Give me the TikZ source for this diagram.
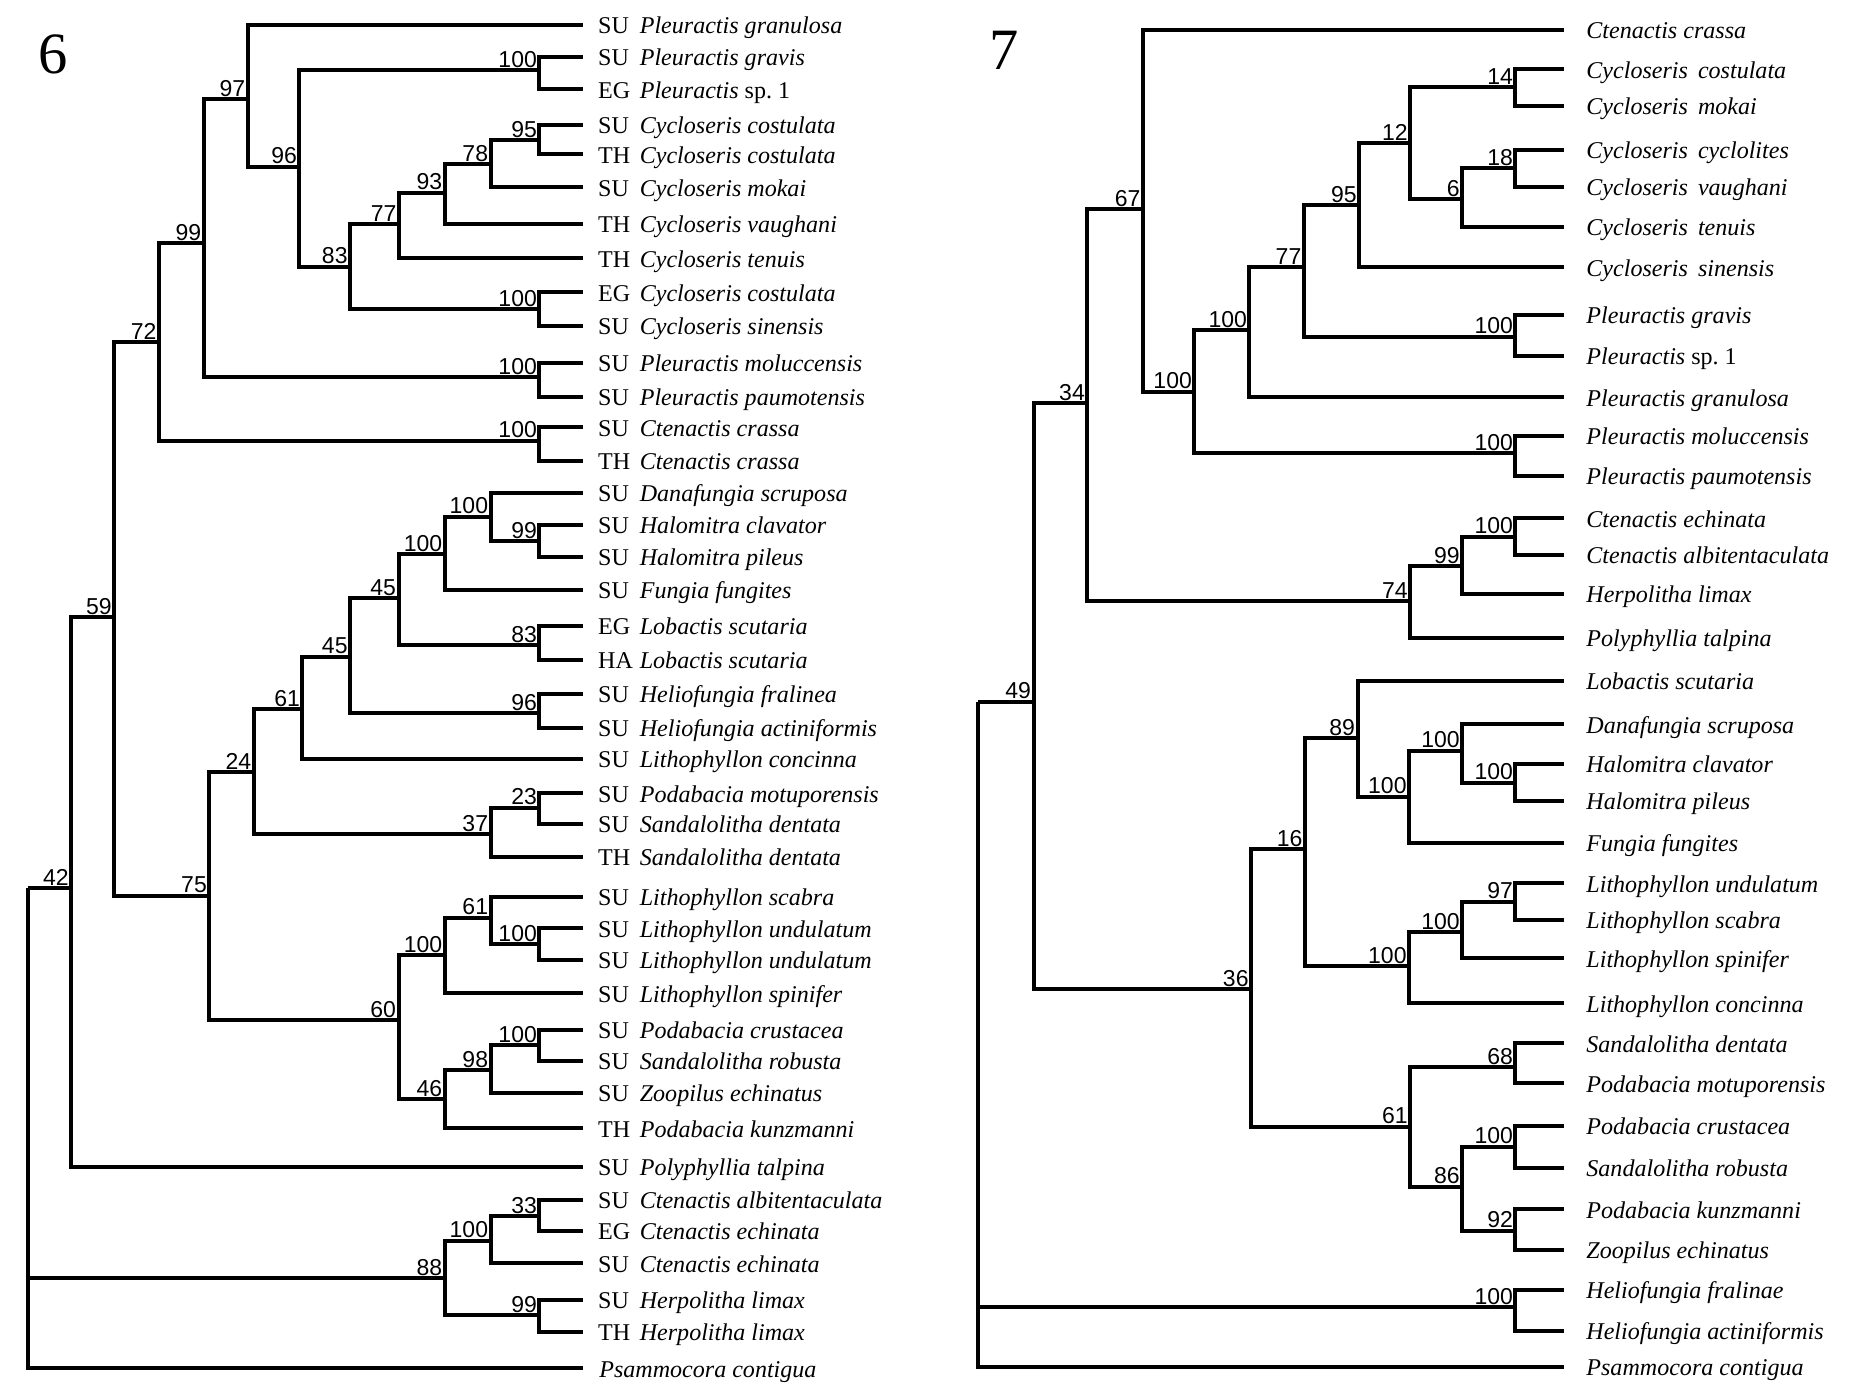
\documentclass[tikz,border=0pt]{standalone}
\usepackage{fontspec}
\setmainfont{Liberation Serif}
\newfontfamily\bsfont{Liberation Sans}
\tikzset{
  branch/.style={line width=1.9pt, line join=miter},
  bs/.style={font=\bsfont\fontsize{11}{12}\selectfont, anchor=south east, inner sep=1pt},
  code/.style={font=\fontsize{11.5}{13}\selectfont, anchor=base west, inner sep=0pt, yshift=-4.2pt},
  taxon/.style={code, font=\fontsize{11.5}{13}\selectfont\itshape},
  panel/.style={font=\fontsize{28}{30}\selectfont, inner sep=0pt}
}
\begin{document}
\begin{tikzpicture}[x=0.02cm, y=-0.02cm]
\useasboundingbox (0,0) rectangle (1568,1172);
% figure 6
\node[panel] (p6) at (45,46) {6};
\foreach \n/\y/\g/\s in {a1/21/SU/Pleuractis granulosa, a2/47.6/SU/Pleuractis gravis,
  a3/75/EG/{Pleuractis \upshape sp.~1}, a4/105/SU/Cycloseris costulata,
  a5/129.6/TH/Cycloseris costulata, a6/157.3/SU/Cycloseris mokai,
  a7/188/TH/Cycloseris vaughani, a8/217/TH/Cycloseris tenuis,
  a9/245.5/EG/Cycloseris costulata, a10/273.8/SU/Cycloseris sinensis,
  a11/304.5/SU/Pleuractis moluccensis, a12/333.1/SU/Pleuractis paumotensis,
  a13/358.9/SU/Ctenactis crassa, a14/386.8/TH/Ctenactis crassa,
  a15/413.7/SU/Danafungia scruposa, a16/440.9/SU/Halomitra clavator,
  a17/467.5/SU/Halomitra pileus, a18/495.5/SU/Fungia fungites,
  a19/525.7/EG/Lobactis scutaria, a20/554.3/HA/Lobactis scutaria,
  a21/582.9/SU/Heliofungia fralinea, a22/611.1/SU/Heliofungia actiniformis,
  a23/637.5/SU/Lithophyllon concinna, a24/666.3/SU/Podabacia motuporensis,
  a25/692/SU/Sandalolitha dentata, a26/719.5/TH/Sandalolitha dentata,
  a27/753.1/SU/Lithophyllon scabra, a28/779.7/SU/Lithophyllon undulatum,
  a29/806.3/SU/Lithophyllon undulatum, a30/834.3/SU/Lithophyllon spinifer,
  a31/865/SU/Podabacia crustacea, a32/891/SU/Sandalolitha robusta,
  a33/917.6/SU/Zoopilus echinatus, a34/947.6/TH/Podabacia kunzmanni,
  a35/979.8/SU/Polyphyllia talpina, a36/1007.8/SU/Ctenactis albitentaculata,
  a37/1033.5/EG/Ctenactis echinata, a38/1061/SU/Ctenactis echinata,
  a39/1091.8/SU/Herpolitha limax, a40/1118.4/TH/Herpolitha limax}{
  \coordinate (\n) at (490,\y);
  \node[code] (c\n) at (502,\y) {\g};
  \node[taxon] (t\n) at (537,\y) {\s};
}
\coordinate (a41) at (490,1149.2);
\node[taxon] (ta41) at (503,1149.2) {Psammocora contigua};
\coordinate (r6) at (23.9,746);
\foreach \n/\x/\y/\v in {n42/59.8/746/42, n59/96/518.4/59, n72/133.5/287.5/72,
  n99/171/204.4/99, n97/208/83.4/97, n96/251.5/140/96, n100a/453/58.8/100,
  n83/294/224/83, n77/335/188/77, n93/373.5/161.8/93, n78/412/137.7/78,
  n95/453/117.6/95, n100b/453/259.8/100, n100d/453/316.9/100, n100f/453/370/100,
  n75/175.8/752.2/75, n24/213/648.1/24, n61a/254/595.7/61, n45a/294/551.5/45,
  n45b/334.7/502.5/45, n100g/373.5/465.5/100, n100h/412/433.9/100,
  n99b/453/454.3/99, n83b/453/541.7/83, n96b/453/599.1/96, n37/412/700.4/37,
  n23/453/678.3/23, n60/334.7/856.7/60, n100i/373.5/802/100, n61b/412/770.7/61,
  n100j/453/793.1/100, n46/373.5/923/46, n98/412/898.6/98, n100k/453/877.6/100,
  n88/373.5/1073.6/88, n100l/412/1041.9/100, n33/453/1021.2/33, n99c/453/1104.4/99}{
  \coordinate (\n) at (\x,\y);
  \node[bs] (l\n) at (\n) {\v};
}
\foreach \p/\c in {r6/n42, r6/n88, r6/a41, n42/n59, n42/a35, n59/n72, n59/n75,
  n72/n99, n72/n100f, n99/n97, n99/n100d, n97/a1, n97/n96, n96/n100a, n96/n83,
  n100a/a2, n100a/a3, n83/n77, n83/n100b, n77/n93, n77/a8, n93/n78, n93/a7,
  n78/n95, n78/a6, n95/a4, n95/a5, n100b/a9, n100b/a10, n100d/a11, n100d/a12,
  n100f/a13, n100f/a14, n75/n24, n75/n60, n24/n61a, n24/n37, n61a/n45a, n61a/a23,
  n45a/n45b, n45a/n96b, n45b/n100g, n45b/n83b, n100g/n100h, n100g/a18,
  n100h/a15, n100h/n99b, n99b/a16, n99b/a17, n83b/a19, n83b/a20, n96b/a21,
  n96b/a22, n37/n23, n37/a26, n23/a24, n23/a25, n60/n100i, n60/n46,
  n100i/n61b, n100i/a30, n61b/a27, n61b/n100j, n100j/a28, n100j/a29,
  n46/n98, n46/a34, n98/n100k, n98/a33, n100k/a31, n100k/a32,
  n88/n100l, n88/n99c, n100l/n33, n100l/a38, n33/a36, n33/a37, n99c/a39, n99c/a40}
  \draw[branch] (\p) |- (\c);
% figure 7
\node[panel] (p7) at (843,42) {7};
\foreach \n/\y/\s in {b1/25.2/Ctenactis crassa, b2/58.2/Cycloseris~\,costulata,
  b3/89/Cycloseris~\,mokai, b4/126/Cycloseris~\,cyclolites,
  b5/156.8/Cycloseris~\,vaughani, b6/190.4/Cycloseris~\,tenuis,
  b7/224.5/Cycloseris~\,sinensis, b8/264.6/Pleuractis gravis,
  b9/298.9/{Pleuractis \upshape sp.~1}, b10/333.7/Pleuractis granulosa,
  b11/366.1/Pleuractis moluccensis, b12/399.7/Pleuractis paumotensis,
  b13/435.3/Ctenactis echinata, b14/466/Ctenactis albitentaculata,
  b15/498.8/Herpolitha limax, b16/536/Polyphyllia talpina,
  b17/571.7/Lobactis scutaria, b18/608.3/Danafungia scruposa,
  b19/641.6/Halomitra clavator, b20/672.4/Halomitra pileus,
  b21/707.7/Fungia fungites, b22/741.9/Lithophyllon undulatum,
  b23/772.7/Lithophyllon scabra, b24/804.9/Lithophyllon spinifer,
  b25/842.7/Lithophyllon concinna, b26/876.2/Sandalolitha dentata,
  b27/909.8/Podabacia motuporensis, b28/945.6/Podabacia crustacea,
  b29/980.6/Sandalolitha robusta, b30/1015.6/Podabacia kunzmanni,
  b31/1049.8/Zoopilus echinatus, b32/1083.4/Heliofungia fralinae,
  b33/1117.5/Heliofungia actiniformis, b34/1147.8/Psammocora contigua}{
  \coordinate (\n) at (1313.5,\y);
  \node[taxon] (t\n) at (1332,\y) {\s};
}
\coordinate (r7) at (821.4,589.3);
\foreach \n/\x/\y/\v in {m49/868/589.3/49, m34/913.2/338.7/34, m67/959.9/175.8/67,
  m100u/1003.1/328.9/100, m100v/1049.3/277.2/100, m77/1095/224/77,
  m95/1141.6/172.2/95, m12/1184.3/119.8/12, m14/1272.7/73.3/14, m6/1228/167.1/6,
  m18/1272.7/141.4/18, m100x/1272.7/282.8/100, m100w/1272.7/380.7/100,
  m74/1184.3/504.4/74, m99/1228/475.3/99, m100a/1272.7/450.7/100,
  m36/1050.7/830.9/36, m16/1095.9/713.3/16, m89/1140.1/620.1/89,
  m100b/1183.4/669.1/100, m100c/1228/630.5/100, m100d/1272.7/657.3/100,
  m100e/1183.4/811.3/100, m100f/1228/783/100, m97/1272.7/757.3/97,
  m61/1184.3/946.2/61, m68/1272.7/896.4/68, m86/1228/996.6/86,
  m100g/1272.7/963/100, m92/1272.7/1033.5/92, m100z/1272.7/1097.9/100}{
  \coordinate (\n) at (\x,\y);
  \node[bs] (l\n) at (\n) {\v};
}
\foreach \p/\c in {r7/m49, r7/m100z, r7/b34, m49/m34, m49/m36, m34/m67, m34/m74,
  m67/b1, m67/m100u, m100u/m100v, m100u/m100w, m100v/m77, m100v/b10,
  m77/m95, m77/m100x, m95/m12, m95/b7, m12/m14, m12/m6, m14/b2, m14/b3,
  m6/m18, m6/b6, m18/b4, m18/b5, m100x/b8, m100x/b9, m100w/b11, m100w/b12,
  m74/m99, m74/b16, m99/m100a, m99/b15, m100a/b13, m100a/b14,
  m36/m16, m36/m61, m16/m89, m16/m100e, m89/b17, m89/m100b,
  m100b/m100c, m100b/b21, m100c/b18, m100c/m100d, m100d/b19, m100d/b20,
  m100e/m100f, m100e/b25, m100f/m97, m100f/b24, m97/b22, m97/b23,
  m61/m68, m61/m86, m68/b26, m68/b27, m86/m100g, m86/m92,
  m100g/b28, m100g/b29, m92/b30, m92/b31, m100z/b32, m100z/b33}
  \draw[branch] (\p) |- (\c);
\end{tikzpicture}
\end{document}
